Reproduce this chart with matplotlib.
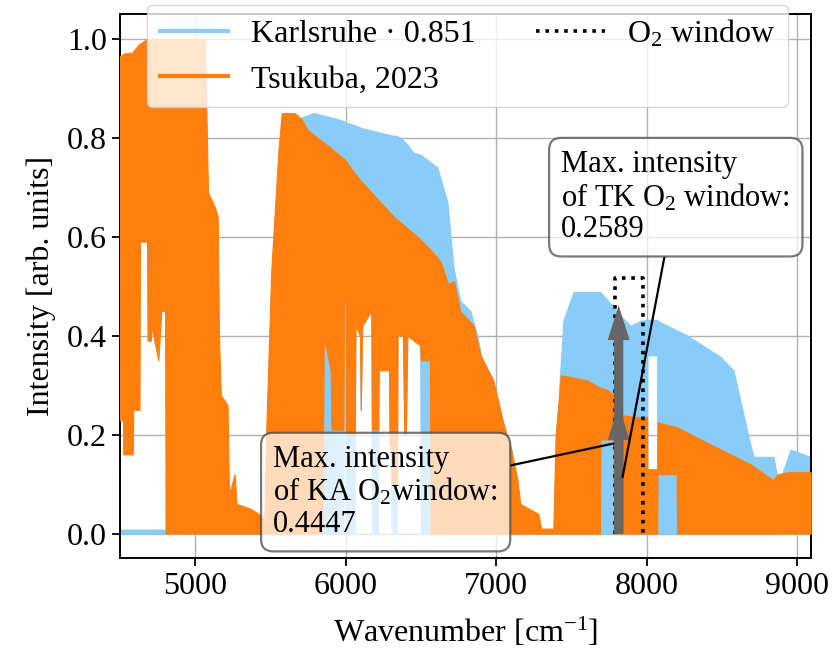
import matplotlib
matplotlib.use("Agg")
import matplotlib.pyplot as plt
from matplotlib.lines import Line2D

plt.rcParams['font.family'] = ['Liberation Serif', 'DejaVu Serif']
plt.rcParams['mathtext.fontset'] = 'custom'
plt.rcParams['mathtext.rm'] = 'Liberation Serif'
plt.rcParams['mathtext.it'] = 'Liberation Serif:italic'
plt.rcParams['font.size'] = 23

# Tsukuba spectrum, envelope (upper / lower edge of the dense lines)
ts_wn = [4500, 4520, 4522, 4585, 4588, 4630, 4633, 4680, 4683, 4705, 4708, 4755, 4775, 4800,
         4803, 5065, 5085, 5130, 5150, 5158, 5170, 5215, 5225, 5262, 5275, 5370, 5420, 5460,
         5470, 5505, 5552, 5575, 5660, 5700, 5750, 5845, 5855, 5900, 5905, 5985, 5988, 5998,
         6000, 6060, 6065, 6095, 6100, 6110, 6170, 6175, 6215, 6220, 6288, 6292, 6300, 6305,
         6340, 6345, 6380, 6390, 6400, 6410, 6495, 6500, 6560, 6565, 6630, 6680, 6720, 6760,
         6850, 6895, 6980, 7050, 7100, 7140, 7160, 7280, 7300, 7380, 7395, 7430, 7600, 7690,
         7693, 7740, 7780, 7783, 7800, 7960, 8003, 8005, 8070, 8072, 8200, 8202, 8360, 8690,
         8840, 8870, 8940, 9090]
ts_hi = [0.965, 0.968, 0.970, 0.972, 0.975, 0.990, 0.990, 1.000, 1.000, 1.000, 1.000, 1.000, 1.000, 1.000,
         1.000, 1.000, 0.690, 0.660, 0.640, 0.400, 0.280, 0.260, 0.080, 0.120, 0.060, 0.050, 0.040, 0.030,
         0.190, 0.530, 0.770, 0.850, 0.850, 0.840, 0.815, 0.792, 0.790, 0.780, 0.778, 0.758, 0.757, 0.755,
         0.754, 0.728, 0.726, 0.715, 0.713, 0.710, 0.690, 0.688, 0.675, 0.673, 0.651, 0.650, 0.647, 0.645,
         0.635, 0.634, 0.625, 0.622, 0.620, 0.617, 0.595, 0.593, 0.575, 0.573, 0.550, 0.505, 0.510, 0.450,
         0.420, 0.360, 0.310, 0.220, 0.170, 0.110, 0.060, 0.040, 0.010, 0.010, 0.200, 0.320, 0.310, 0.295,
         0.295, 0.290, 0.280, 0.260, 0.240, 0.235, 0.235, 0.130, 0.130, 0.225, 0.215, 0.215, 0.190, 0.140,
         0.108, 0.120, 0.124, 0.124]
ts_lo = [0.23, 0.23, 0.16, 0.16, 0.25, 0.25, 0.59, 0.59, 0.39, 0.39, 0.42, 0.35, 0.45, 0.45,
         0.00, 0.00, 0.00, 0.00, 0.00, 0.00, 0.00, 0.00, 0.00, 0.00, 0.00, 0.00, 0.00, 0.00,
         0.00, 0.00, 0.00, 0.00, 0.00, 0.00, 0.00, 0.00, 0.40, 0.33, 0.21, 0.21, 0.47, 0.47,
         0.20, 0.20, 0.42, 0.40, 0.25, 0.42, 0.45, 0.21, 0.21, 0.33, 0.33, 0.18, 0.18, 0.10,
         0.10, 0.40, 0.40, 0.20, 0.20, 0.40, 0.38, 0.35, 0.35, 0.00, 0.00, 0.00, 0.00, 0.00,
         0.00, 0.00, 0.00, 0.00, 0.00, 0.00, 0.00, 0.00, 0.00, 0.00, 0.00, 0.00, 0.00, 0.00,
         0.19, 0.19, 0.19, 0.00, 0.00, 0.00, 0.00, 0.00, 0.00, 0.12, 0.12, 0.00, 0.00, 0.00,
         0.00, 0.00, 0.00, 0.00]

# Karlsruhe spectrum (scaled by 0.851)
ka_wn = [4500, 4880, 4882, 5470, 5505, 5575, 5700, 5785, 5918, 5985, 5988, 5998, 6000, 6010,
         6060, 6065, 6095, 6100, 6110, 6170, 6175, 6215, 6220, 6288, 6292, 6300, 6305, 6340,
         6345, 6363, 6380, 6390, 6400, 6410, 6450, 6495, 6500, 6609, 6676, 6715, 6762, 6828,
         6875, 6900, 6980, 7050, 7100, 7140, 7160, 7280, 7300, 7400, 7420, 7447, 7513, 7693,
         7759, 7826, 7892, 7959, 8003, 8005, 8070, 8072, 8271, 8491, 8577, 8644, 8677, 8710,
         8843, 8870, 8900, 8956, 9090]
ka_hi = [0.008, 0.008, 0.000, 0.000, 0.500, 0.800, 0.840, 0.850, 0.840, 0.834, 0.833, 0.832, 0.831, 0.830,
         0.825, 0.824, 0.821, 0.820, 0.819, 0.815, 0.814, 0.812, 0.811, 0.806, 0.806, 0.805, 0.805, 0.803,
         0.803, 0.800, 0.795, 0.792, 0.789, 0.786, 0.770, 0.766, 0.765, 0.740, 0.670, 0.540, 0.470, 0.450,
         0.400, 0.360, 0.310, 0.220, 0.170, 0.110, 0.050, 0.030, 0.000, 0.000, 0.300, 0.430, 0.488, 0.488,
         0.465, 0.440, 0.420, 0.430, 0.432, 0.432, 0.432, 0.430, 0.400, 0.357, 0.330, 0.240, 0.195, 0.155,
         0.155, 0.110, 0.120, 0.170, 0.155]
ka_lo = [0.00, 0.00, 0.00, 0.00, 0.00, 0.00, 0.00, 0.00, 0.00, 0.00, 0.47, 0.47, 0.00, 0.00,
         0.00, 0.42, 0.40, 0.25, 0.42, 0.45, 0.00, 0.00, 0.33, 0.33, 0.18, 0.18, 0.00, 0.00,
         0.40, 0.40, 0.40, 0.20, 0.20, 0.40, 0.40, 0.38, 0.00, 0.00, 0.00, 0.00, 0.00, 0.00,
         0.00, 0.00, 0.00, 0.00, 0.00, 0.00, 0.00, 0.00, 0.00, 0.00, 0.00, 0.00, 0.00, 0.00,
         0.00, 0.00, 0.00, 0.00, 0.00, 0.36, 0.36, 0.00, 0.00, 0.00, 0.00, 0.00, 0.00, 0.00,
         0.00, 0.00, 0.00, 0.00, 0.00]

o2_window = [7790, 7975]
o2_window_top = 0.517
arrow_wn = 7814
arrow_tops = [0.461, 0.259]
ka_max = 0.4447
tk_max = 0.2589

blue = '#88CCF7'
orange = '#FF7F0E'

fig, ax = plt.subplots(figsize=(8.36, 6.52), dpi=100)
fig.subplots_adjust(left=0.1435, right=0.9697, bottom=0.1437, top=0.9785)

ax.fill_between(ka_wn, ka_lo, ka_hi, color=blue, lw=0.8, zorder=2)
ax.fill_between(ts_wn, ts_lo, ts_hi, color=orange, lw=0.8, zorder=3)

# O2 window
ax.plot([o2_window[0], o2_window[0], o2_window[1], o2_window[1]],
        [0, o2_window_top, o2_window_top, 0], color='black', ls=(0, (1, 1.6)), lw=2.6, zorder=4)

# arrows marking the maxima
for top in arrow_tops:
    ax.arrow(arrow_wn, 0, 0, top, width=62, head_width=146, head_length=0.07,
             length_includes_head=True, color='#666666', lw=0, zorder=5)

box = dict(boxstyle='round,pad=0.4', facecolor='white', alpha=0.72, edgecolor='#444444', lw=1.6)
ax.annotate(f"Max. intensity\nof TK O$_2$ window:\n{tk_max}", xy=(7840, 0.114), xytext=(7433, 0.775),
            ha='left', va='top', bbox=box, linespacing=1.1, zorder=6, fontsize=22,
            arrowprops=dict(arrowstyle='-', color='black', lw=1.6, shrinkA=0, shrinkB=0))
ax.annotate(f"Max. intensity\nof KA O$_2$window:\n{ka_max}", xy=(7779, 0.182), xytext=(5519, 0.179),
            ha='left', va='top', bbox=box, linespacing=1.1, zorder=6, fontsize=22,
            arrowprops=dict(arrowstyle='-', color='black', lw=1.6, shrinkA=0, shrinkB=0))

ax.set_xlim(4500, 9090)
ax.set_ylim(-0.05, 1.05)
ax.set_xticks([5000, 6000, 7000, 8000, 9000])
ax.set_yticks([0.0, 0.2, 0.4, 0.6, 0.8, 1.0])
ax.set_xlabel("Wavenumber [cm$^{-1}$]", labelpad=11)
ax.set_ylabel("Intensity [arb. units]", labelpad=8)
ax.grid(color='#b0b0b0', lw=1.0, zorder=0)
ax.set_axisbelow(True)
ax.tick_params(direction='out', length=6, width=1.3)
for s in ax.spines.values():
    s.set_linewidth(1.4)

handles = [Line2D([], [], color=blue, lw=3),
           Line2D([], [], color=orange, lw=3),
           Line2D([], [], color='black', ls=(0, (1, 1.6)), lw=2.6)]
labels = ["Karlsruhe · 0.851", "Tsukuba, 2023", "O$_2$ window"]
leg = ax.legend(handles, labels,
                ncol=2, loc='upper left', bbox_to_anchor=(0.039, 1.0165), borderaxespad=0,
                handlelength=2.15, handletextpad=0.7, columnspacing=1.9,
                fancybox=True, framealpha=0.8)
leg.set_zorder(10)

fig.savefig("out.png", dpi=100)
